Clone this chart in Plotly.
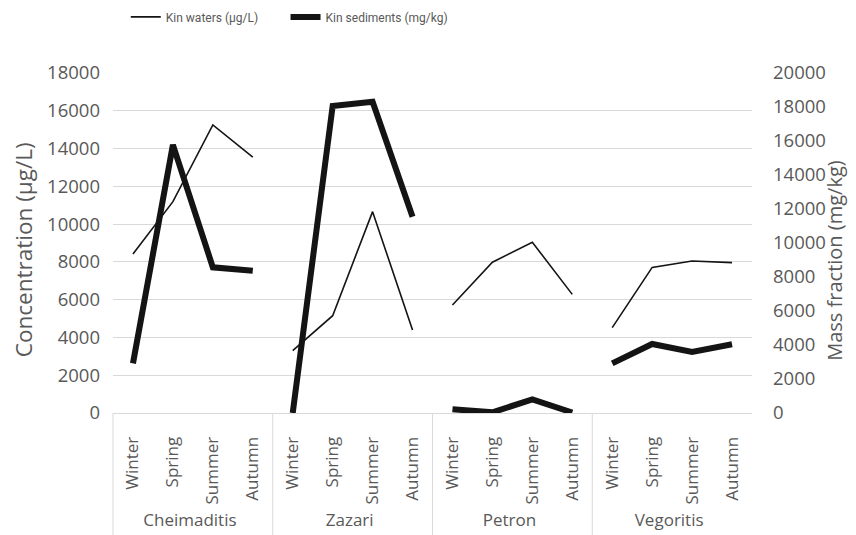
import plotly.graph_objects as go

# Lakes and sampling seasons
lakes = ["Cheimaditis", "Zazari", "Petron", "Vegoritis"]
seasons = ["Winter", "Spring", "Summer", "Autumn"]

# K concentration in lake waters (µg/L), per lake, Winter..Autumn
waters_cheimaditis = [8420, 11190, 15250, 13540]
waters_zazari = [3300, 5150, 10660, 4390]
waters_petron = [5720, 7980, 9040, 6280]
waters_vegoritis = [4520, 7710, 8050, 7960]

# K mass fraction in lake sediments (mg/kg), per lake, Winter..Autumn
sed_cheimaditis = [2920, 15770, 8570, 8370]
sed_zazari = [0, 18060, 18310, 11550]
sed_petron = [220, 40, 800, 30]
sed_vegoritis = [2920, 4060, 3590, 4040]

# Axis tick values
left_ticks = list(range(0, 18001, 2000))
right_ticks = list(range(0, 20001, 2000))

waters = [waters_cheimaditis, waters_zazari, waters_petron, waters_vegoritis]
sediments = [sed_cheimaditis, sed_zazari, sed_petron, sed_vegoritis]

GREY = "#595959"
LINE = "#d9d9d9"
INK = "#141414"

# Rotated season labels; a leading no-break space leaves room above the lake names
season_labels = ["\u00a0" + s for s in seasons]

fig = go.Figure()

# One trace per lake so the lines break between lakes
for i, lake in enumerate(lakes):
    fig.add_trace(go.Scatter(
        x=[[lake] * len(seasons), season_labels], y=waters[i],
        mode="lines", line=dict(color=INK, width=1.6),
        name="Kin waters (µg/L)", legendgroup="w", showlegend=(i == 0),
        legend="legend", yaxis="y"))
for i, lake in enumerate(lakes):
    fig.add_trace(go.Scatter(
        x=[[lake] * len(seasons), season_labels], y=sediments[i],
        mode="lines", line=dict(color=INK, width=6),
        name="Kin sediments (mg/kg)", legendgroup="s", showlegend=(i == 0),
        legend="legend2", yaxis="y2"))

n_cat = len(lakes) * len(seasons)

# Group separators: left edge and between lakes, running down through the labels
bottom_px, plot_h = 122, 340
for k in range(len(lakes)):
    fig.add_shape(type="line", xref="paper", yref="paper",
                  x0=k / len(lakes), x1=k / len(lakes),
                  y0=0, y1=-bottom_px / plot_h,
                  line=dict(color=LINE, width=1), layer="below")

legend_font = dict(family="Roboto, sans-serif", size=12, color=GREY)

fig.update_layout(
    width=856, height=535,
    margin=dict(l=113, r=104, t=73, b=bottom_px, autoexpand=False),
    paper_bgcolor="white", plot_bgcolor="white",
    font=dict(family="Open Sans, sans-serif", size=15, color=GREY),
    showlegend=True,
    legend=dict(orientation="h", x=0.02, xanchor="left", y=1.165, yanchor="middle",
                font=legend_font),
    legend2=dict(orientation="h", x=0.27, xanchor="left", y=1.165, yanchor="middle",
                 font=legend_font),
    xaxis=dict(
        type="multicategory", showgrid=False, range=[-0.5, n_cat - 0.5],
        showline=True, linecolor=LINE, linewidth=1,
        showdividers=False,
        tickangle=-90, ticks="", ticklabelstandoff=16,
        tickfont=dict(size=17, color=GREY),
    ),
    yaxis=dict(
        range=[0, 18000], tickvals=left_ticks, ticktext=[str(v) for v in left_ticks],
        showgrid=True, gridcolor=LINE,
        gridwidth=1, zeroline=False, showline=False, ticks="",
        ticklabelstandoff=12, tickfont=dict(size=18.5, color=GREY),
    ),
    yaxis2=dict(
        range=[0, 20000], tickvals=right_ticks, ticktext=[str(v) for v in right_ticks],
        overlaying="y", side="right",
        showgrid=False, zeroline=False, showline=False, ticks="",
        ticklabelstandoff=20, tickfont=dict(size=18.5, color=GREY),
    ),
    annotations=[
        dict(text="Concentration (µg/L)", textangle=-90, xref="paper", yref="paper",
             x=-0.1408, y=0.479, xanchor="center", yanchor="middle", showarrow=False,
             font=dict(size=22.5, color=GREY)),
        dict(text="Mass fraction (mg/kg)", textangle=-90, xref="paper", yref="paper",
             x=1.128, y=0.45, xanchor="center", yanchor="middle", showarrow=False,
             font=dict(size=20, color=GREY)),
    ],
)

fig.write_html("out.html")
